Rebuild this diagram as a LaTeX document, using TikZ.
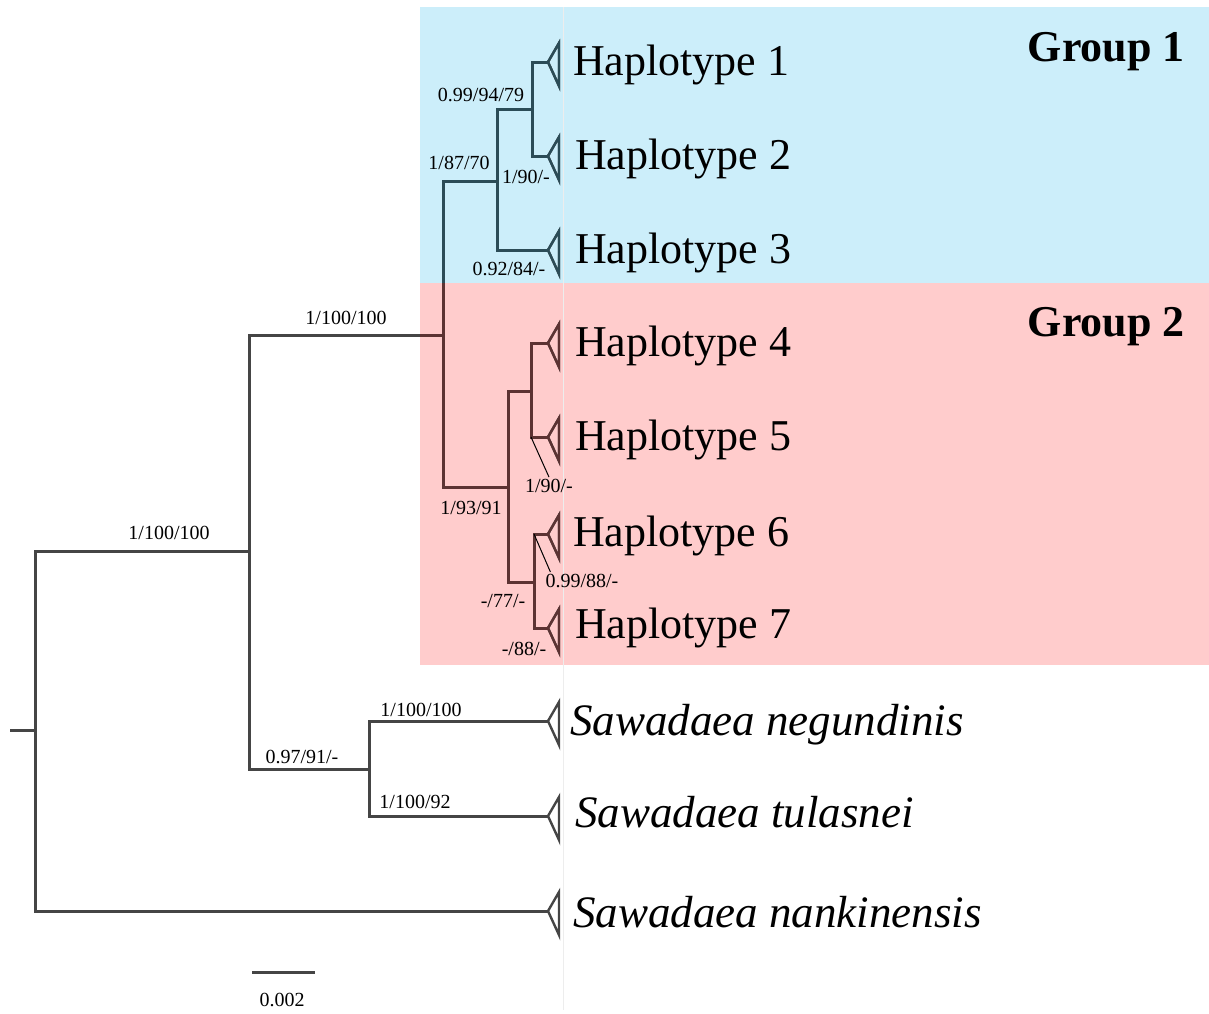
\documentclass[tikz,border=0pt]{standalone}
\usepackage{fontspec}
\setmainfont{Liberation Serif}
\definecolor{grpone}{HTML}{CCEEFA}
\definecolor{grptwo}{HTML}{FFCCCC}
\definecolor{branch}{HTML}{454545}
\definecolor{branchone}{HTML}{2B4C57}
\definecolor{branchtwo}{HTML}{5C3333}
\tikzset{
  tree/.style={line width=3pt, line join=miter, line cap=butt},
  clade/.style={line width=2.4pt, line join=miter},
  support/.style={font=\fontsize{20}{22}\selectfont, inner sep=2pt},
  taxon/.style={font=\fontsize{44}{48}\selectfont, anchor=base west, inner sep=0pt},
  species/.style={font=\fontsize{45}{49}\selectfont\itshape, anchor=base west, inner sep=0pt},
  grouplabel/.style={font=\fontsize{44}{48}\selectfont\bfseries, anchor=base east, inner sep=0pt},
  pointer/.style={line width=1pt, black}
}
% parent/child pairs of the tree
\def\edgelist{root/nA, root/t10, nA/nB, nA/nS, nB/nG1, nB/nG2, nG1/nP, nG1/t3,
  nP/t1, nP/t2, nG2/nQ, nG2/nR, nQ/t4, nQ/t5, nR/t6, nR/t7, nS/t8, nS/t9}
\newcommand\drawtree[1]{%
  \foreach \p/\c in \edgelist {\draw[tree, draw=#1] (\p) |- (\c);}
  \foreach \t in {t1,t2,t3,t4,t5,t6,t7,t8,t9,t10}
    {\draw[clade, draw=#1] ([shift={(11,-19)}]\t) -- (\t) -- ([shift={(11,24)}]\t) -- cycle;}
}
\begin{document}
\begin{tikzpicture}[x=1pt, y=-1pt]
\useasboundingbox (0,0) rectangle (1209,1013);
% group panels
\fill[grpone] (420,7) rectangle (1209,283);
\fill[grptwo] (420,283) rectangle (1209,665);
\draw[black!7, line width=0.8pt] (563,7) -- (563,1010);

% internal nodes
\coordinate (stub) at (10,730);
\coordinate (root) at (35,730);
\coordinate (nA) at (249,551);
\coordinate (nB) at (443,335);
\coordinate (nG1) at (497,181);
\coordinate (nP) at (532,109);
\coordinate (nG2) at (508,487);
\coordinate (nQ) at (531,391);
\coordinate (nR) at (534,582);
\coordinate (nS) at (369,769);
% collapsed clades
\coordinate (t1) at (548,62);
\coordinate (t2) at (548,156);
\coordinate (t3) at (548,250);
\coordinate (t4) at (548,343);
\coordinate (t5) at (548,437);
\coordinate (t6) at (548,534);
\coordinate (t7) at (548,628);
\coordinate (t8) at (548,721);
\coordinate (t9) at (548,816);
\coordinate (t10) at (548,911);

% branches
\draw[tree, draw=branch] (stub) -- (root);
\drawtree{branch}
\begin{scope}
  \clip (420,7) rectangle (1209,283);
  \drawtree{branchone}
\end{scope}
\begin{scope}
  \clip (420,283) rectangle (1209,665);
  \drawtree{branchtwo}
\end{scope}

% tip labels
\node[taxon] (h1) at (573,75) {Haplotype 1};
\node[taxon] (h2) at (575,169) {Haplotype 2};
\node[taxon] (h3) at (575,263) {Haplotype 3};
\node[taxon] (h4) at (575,356) {Haplotype 4};
\node[taxon] (h5) at (575,450) {Haplotype 5};
\node[taxon] (h6) at (573,546) {Haplotype 6};
\node[taxon] (h7) at (575,638) {Haplotype 7};
\node[species] (s1) at (570,735) {Sawadaea negundinis};
\node[species] (s2) at (575,827) {Sawadaea tulasnei};
\node[species] (s3) at (573,927) {Sawadaea nankinensis};

% group names
\node[grouplabel] (g1) at (1185,61) {Group 1};
\node[grouplabel] (g2) at (1185,336) {Group 2};

% support values (posterior probability / bootstrap / bootstrap)
\node[support] (sNp) at (481,95) {0.99/94/79};
\node[support] (sNg1) at (459,163) {1/87/70};
\node[support] (sT2) at (526,177) {1/90/-};
\node[support] (sT3) at (509,269) {0.92/84/-};
\node[support] (sNb) at (346,318) {1/100/100};
\node[support] (sNg2) at (471,508) {1/93/91};
\node[support] (sT5) at (549,486) {1/90/-};
\node[support] (sT6) at (582,581) {0.99/88/-};
\node[support] (sNr) at (503,601) {-/77/-};
\node[support] (sT7) at (524,649) {-/88/-};
\node[support] (sNa) at (169,533) {1/100/100};
\node[support] (sNs) at (302,757) {0.97/91/-};
\node[support] (sT8) at (421,710) {1/100/100};
\node[support] (sT9) at (415,802) {1/100/92};

% leader lines for crowded values
\draw[pointer] (nQ |- t5) -- (sT5.north);
\draw[pointer] (nR |- t6) -- ([xshift=7pt]sT6.north west);

% scale bar
\coordinate (sbl) at (252,972);
\coordinate (sbr) at (315,972);
\draw[tree, draw=branch] (sbl) -- (sbr);
\node[support] (sbt) at (282,1000) {0.002};
\end{tikzpicture}
\end{document}
